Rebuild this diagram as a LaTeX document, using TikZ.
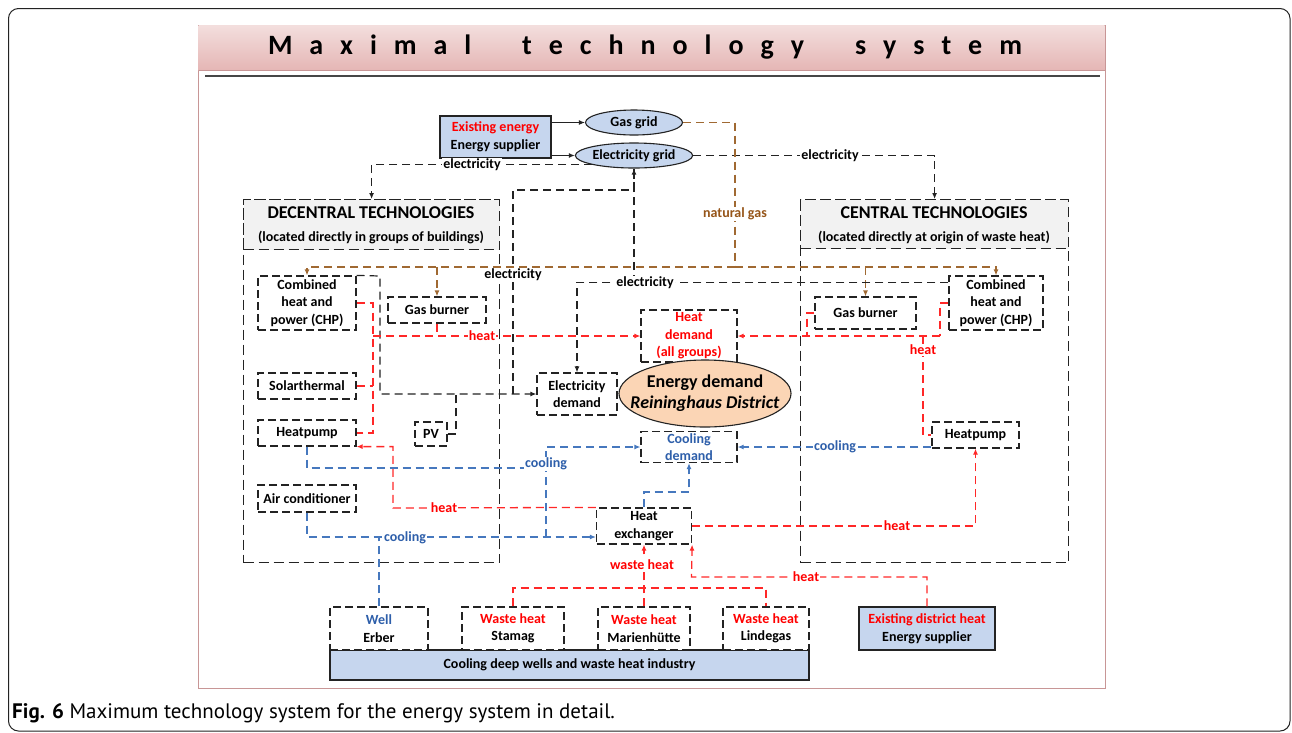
\documentclass[tikz,border=0pt]{standalone}
\usepackage{fontspec}
\setmainfont{Carlito}
\newfontfamily\capfont{PT Sans}
\usetikzlibrary{arrows.meta,shapes.geometric,calc}
\definecolor{lblue}{RGB}{198,214,238}
\definecolor{peach}{RGB}{251,213,181}
\definecolor{hred}{RGB}{255,40,40}
\definecolor{tred}{RGB}{255,0,0}
\definecolor{cblue}{RGB}{70,120,190}
\definecolor{tblue}{RGB}{46,95,170}
\definecolor{gbrown}{RGB}{160,105,50}
\definecolor{tbrown}{RGB}{150,85,25}
\definecolor{dk}{RGB}{35,35,35}
\definecolor{hdrgrey}{RGB}{242,242,242}
\definecolor{framec}{RGB}{200,150,150}
\definecolor{bandtop}{RGB}{243,222,221}
\definecolor{bandbot}{RGB}{229,182,181}
\definecolor{ruleg}{RGB}{70,70,70}
\newcommand{\bx}{\fontsize{14}{17.5}\selectfont\bfseries}
\newcommand{\lbl}{\fontsize{14}{16}\selectfont\bfseries}
\tikzset{
  dbox/.style={draw=dk, dash pattern=on 8pt off 4pt, line width=1.2pt, fill=white, align=center, inner sep=1pt, font=\bx},
  sbox/.style={draw=dk, line width=1.1pt, fill=lblue, align=center, inner sep=1pt, font=\bx},
  grid/.style={ellipse, draw=dk, line width=1.1pt, fill=lblue, inner sep=0pt, font=\bx},
  bigbox/.style={draw=dk, dash pattern=on 10pt off 5pt, line width=1.2pt, anchor=north west},
  eline/.style={dk, dash pattern=on 8pt off 5pt, line width=1.2pt},
  hline/.style={hred, dash pattern=on 8pt off 5pt, line width=1.3pt},
  cline/.style={cblue, dash pattern=on 8pt off 5pt, line width=1.3pt},
  gline/.style={gbrown, dash pattern=on 8pt off 5pt, line width=1.3pt},
  sline/.style={dk, line width=1.1pt},
  tip/.style={-{Latex[length=6pt,width=5pt]}},
  lab/.style={fill=white, inner sep=1pt, font=\lbl}
}
\begin{document}
\begin{tikzpicture}[x=1pt,y=-1pt]
\useasboundingbox (0,0) rectangle (1292,732);
\fill[white] (0,0) rectangle (1292,732);
% outer frame
\draw[line width=1pt, dk, rounded corners=10pt] (8.5,8.5) rectangle (1290,731);
% figure frame
\draw[framec, line width=1pt] (198,25) rectangle (1105,688);
\shade[top color=bandtop, bottom color=bandbot] (198.5,25.5) rectangle (1104.5,70);
\draw[framec, line width=0.8pt] (198.5,70) -- (1104.5,70);
\node (title) at (645,47) {\fontsize{28}{30}\selectfont\bfseries\makebox[754pt][s]{M\hfill a\hfill x\hfill i\hfill m\hfill a\hfill l\hspace{0pt plus 3fill}t\hfill e\hfill c\hfill h\hfill n\hfill o\hfill l\hfill o\hfill g\hfill y\hspace{0pt plus 3fill}s\hfill y\hfill s\hfill t\hfill e\hfill m}};
\draw[line width=1.8pt, ruleg] (205,76) -- (1100,76);

% big boxes
\node[bigbox, minimum width=256pt, minimum height=363pt] (dec) at (243,199) {};
\node[bigbox, fill=hdrgrey, minimum width=256pt, minimum height=50pt] (dech) at (243,199) {};
\node[font=\fontsize{18}{20}\selectfont\bfseries] (dect) at (371,213) {DECENTRAL TECHNOLOGIES};
\node[font=\bx] (decs) at (371,237) {(located directly in groups of buildings)};
\node[bigbox, minimum width=268pt, minimum height=363pt] (cen) at (800,199) {};
\node[bigbox, fill=hdrgrey, minimum width=268pt, minimum height=49pt] (cenh) at (800,199) {};
\node[font=\fontsize{18}{20}\selectfont\bfseries] (cent) at (934,213) {CENTRAL TECHNOLOGIES};
\node[font=\bx] (cens) at (934,237) {(located directly at origin of waste heat)};

% top nodes
\node[sbox, minimum width=111pt, minimum height=42pt] (sup) at (495.5,137) {\textcolor{tred}{Existing energy}\\Energy supplier};
\node[grid, minimum width=97pt, minimum height=25pt] (gas) at (634,122.5) {Gas grid};
\node[grid, minimum width=98pt, minimum height=25pt] (elec) at (634,155.5) {Electricity grid};

% decentral nodes
\node[dbox, minimum width=98pt, minimum height=54pt] (lchp) at (307,303) {Combined\\heat and\\power (CHP)};
\node[dbox, minimum width=98pt, minimum height=26pt] (lgb) at (437,310) {Gas burner};
\node[dbox, minimum width=98pt, minimum height=26pt] (solar) at (307,386) {Solarthermal};
\node[dbox, minimum width=98pt, minimum height=26pt] (lhp) at (307,433) {Heatpump};
\node[dbox, minimum width=32pt, minimum height=24pt] (pv) at (431,434) {PV};
\node[dbox, minimum width=98pt, minimum height=27pt] (ac) at (307,498.5) {Air conditioner};

% central nodes
\node[dbox, minimum width=101pt, minimum height=32pt] (rgb) at (865.5,313) {Gas burner};
\node[dbox, minimum width=94pt, minimum height=54pt] (rchp) at (996,303) {Combined\\heat and\\power (CHP)};
\node[dbox, minimum width=87pt, minimum height=26pt] (rhp) at (975.5,435) {Heatpump};

% demand nodes
\node[dbox, minimum width=96pt, minimum height=52pt, text=tred] (hdem) at (689,336) {Heat\\demand\\(all groups)};
\node[dbox, minimum width=80pt, minimum height=42pt] (edem) at (577,394) {Electricity\\demand};
\node[dbox, minimum width=96pt, minimum height=31pt, text=tblue] (cdem) at (689,447) {Cooling\\demand};
\node[ellipse, draw=dk, line width=1.1pt, fill=peach, minimum width=172pt, minimum height=67pt, inner sep=0pt] (edm) at (705,393.5) {};
\node[align=center, inner sep=0pt, font=\fontsize{18}{21}\selectfont\bfseries] (edmt) at (edm.center) {Energy demand\\\textit{Reininghaus District}};
\node[dbox, minimum width=95pt, minimum height=36pt] (hex) at (644,526) {Heat\\exchanger};

% bottom nodes
\node[sbox, minimum width=479pt, minimum height=30pt] (base) at (569.5,665) {Cooling deep wells and waste heat industry};
\node[dbox, minimum width=98pt, minimum height=43pt] (well) at (379,628.5) {\textcolor{tblue}{Well}\\Erber};
\node[dbox, minimum width=102pt, minimum height=43pt] (stamag) at (513,628.5) {\textcolor{tred}{Waste heat}\\Stamag};
\node[dbox, minimum width=92pt, minimum height=43pt] (marien) at (644,628.5) {\textcolor{tred}{Waste heat}\\Marienhütte};
\node[dbox, minimum width=86pt, minimum height=43pt] (linde) at (766,628.5) {\textcolor{tred}{Waste heat}\\Lindegas};
\node[sbox, minimum width=136pt, minimum height=43pt] (dist) at (927,628.5) {\textcolor{tred}{Existing district heat}\\Energy supplier};

% coordinates
\coordinate (g1) at (735,267);
\coordinate (ec1) at (380,276);
\coordinate (ec2) at (456,394);
\coordinate (ec3) at (513,190);
\coordinate (ec4) at (578,283);
\coordinate (h1) at (373,336);
\coordinate (h2) at (807,336);
\coordinate (h3) at (940,336);
\coordinate (h4) at (923,336);
\coordinate (h5) at (393,508);
\coordinate (c1) at (546,468);
\coordinate (c2) at (546,537);
\coordinate (c3) at (689,492);
\coordinate (w1) at (644,588);
\coordinate (d1) at (691.5,577);

% supplier arrows
\draw[sline,tip] (sup.east |- gas.west) -- (gas.west);
\draw[sline,tip] (sup.east |- elec.west) -- (elec.west);

% electricity grid to technologies
\draw[eline,tip] (elec.south west) -| (dec.north);
\draw[eline,tip] (elec.east) -| (cen.north);

% natural gas
\draw[gline] (gas.east) -| (g1);
\draw[gline,tip] (g1) -| (lchp.north);
\draw[gline,tip] (g1) -| (rchp.north);
\draw[gline,tip] (lgb.north |- g1) -- (lgb.north);
\draw[gline,tip] (rgb.north |- g1) -- (rgb.north);

% electricity local
\draw[eline,tip] (lchp.north east) -- (ec1) |- (edem.west);
\draw[eline] (pv.east) -| (ec2);
\draw[eline] (edem.west -| ec3) -- (ec3) -| (elec.south);
\draw[eline,tip] ([yshift=-7pt]rchp.north west) -| (edem.north);
\draw[eline,tip] (elec.south |- ec4) -- (elec.south);

% heat left
\draw[hline] (lchp.east) -| (lhp.east -| h1) -- (lhp.east);
\draw[hline] (solar.east) -- (solar.east -| h1);
\draw[hline,tip] (h1) -- (hdem.west);
\draw[hline] (lgb.south) -- (lgb.south |- h1);
\draw[hline,tip] (hex.north west) -- (h5) |- (lhp.south east);

% heat right
\draw[hline] (rgb.west) -| (h2);
\draw[hline] (rchp.west) -| (h3);
\draw[hline,tip] (h3) -- (hdem.east);
\draw[hline] (h4) |- (rhp.west);
\draw[hline,tip] (hex.east) -| (rhp.south);

% cooling
\draw[cline,tip] (rhp.south west |- cdem.east) -- (cdem.east);
\draw[cline] (lhp.south) |- (c1);
\draw[cline,tip] (c2) |- (cdem.west);
\draw[cline,tip] (ac.south) |- (hex.west |- c2);
\draw[cline] (well.north) -- (well.north |- c2);
\draw[cline,tip] (hex.north) |- (c3) -- (cdem.south);

% waste heat
\draw[hline] (stamag.north) |- (w1) -| (linde.north);
\draw[hline,tip] (marien.north) -- (hex.south);
\draw[hline,tip] (dist.north) |- (d1) -- (hex.south east);

% labels
\node[lab] (l1) at (472,165) {electricity};
\node[lab] (l2) at (830,155.5) {electricity};
\node[lab, text=tbrown] (l3) at (735,214) {natural gas};
\node[lab] (l4) at (513,275) {electricity};
\node[lab] (l5) at (645,283) {electricity};
\node[lab, text=tred] (l6) at (482,336) {heat};
\node[lab, text=tred] (l7) at (923,350) {heat};
\node[lab, text=tblue] (l8) at (835,447) {cooling};
\node[lab, text=tblue] (l9) at (546,464) {cooling};
\node[lab, text=tred] (l10) at (444,508) {heat};
\node[lab, text=tblue] (l11) at (405,538) {cooling};
\node[lab, text=tred] (l12) at (897,526) {heat};
\node[lab, text=tred] (l13) at (642,565) {waste heat};
\node[lab, text=tred] (l14) at (806,577) {heat};

% caption
\node[anchor=west, inner sep=0pt, font=\capfont\fontsize{21}{23}\selectfont] (cap) at (12,713) {\textbf{Fig. 6} Maximum technology system for the energy system in detail.};
\end{tikzpicture}
\end{document}
